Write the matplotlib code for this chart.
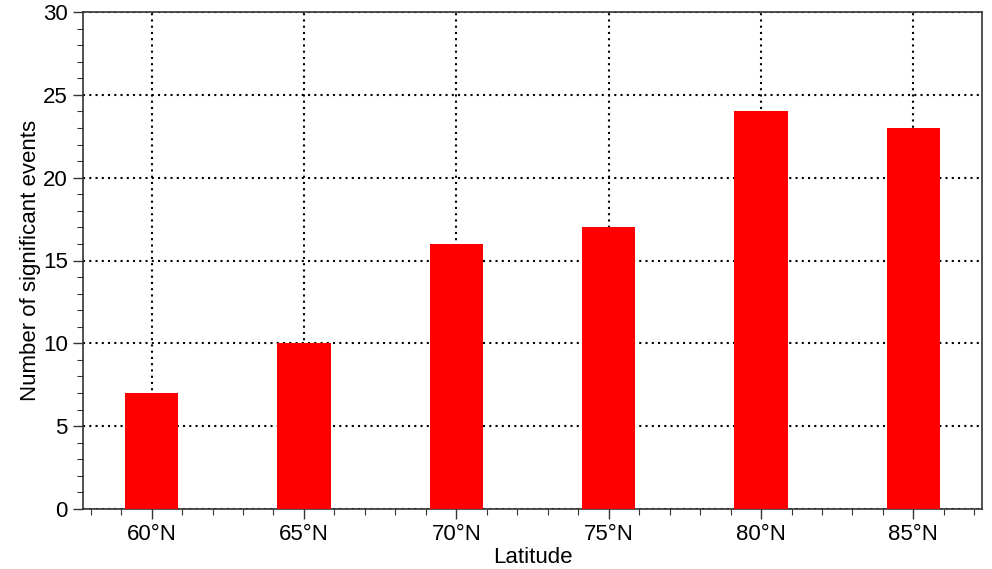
import matplotlib.pyplot as plt
from matplotlib.ticker import MultipleLocator

# significant events counted per latitude band
latitudes = [60, 65, 70, 75, 80, 85]
events = [7, 10, 16, 17, 24, 23]
tick_labels = ["60°N", "65°N", "70°N", "75°N", "80°N", "85°N"]

plt.rcParams["font.family"] = ["Liberation Sans", "DejaVu Sans"]

fig = plt.figure(figsize=(9.92, 5.69), dpi=100)
ax = fig.add_axes([83 / 992, 1 - 509 / 569, (982 - 83) / 992, (509 - 12) / 569])

ax.bar(latitudes, events, width=1.75, color="#ff0000", zorder=3)

ax.set_xlim(57.75, 87.25)
ax.set_ylim(0, 30)
ax.set_xticks(latitudes)
ax.set_xticklabels(tick_labels)
ax.xaxis.set_minor_locator(MultipleLocator(1))
ax.yaxis.set_major_locator(MultipleLocator(5))
ax.yaxis.set_minor_locator(MultipleLocator(1))

ax.grid(True, which="major", color="black", linestyle=(0, (1, 2)), linewidth=1.5, zorder=1)
ax.set_axisbelow(True)

for sp in ax.spines.values():
    sp.set_color("#333333")
    sp.set_linewidth(1.2)

ax.tick_params(which="both", direction="out", colors="#333333", labelcolor="black",
               labelsize=16, top=False, right=False)
ax.tick_params(which="major", length=7, width=1, pad=4)
ax.tick_params(which="minor", length=4, width=0.8)

ax.set_xlabel("Latitude", fontsize=16, labelpad=1)
ax.set_ylabel("Number of significant events", fontsize=16, labelpad=1)

fig.savefig("out.png", dpi=100)
